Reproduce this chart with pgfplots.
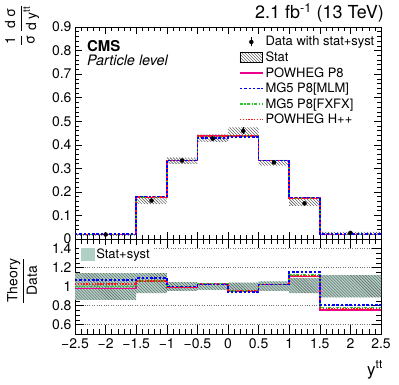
\documentclass[border=0pt]{standalone}
\usepackage{amsmath}
\usepackage{fontspec}
\setmainfont{TeX Gyre Heros}
\usepackage{pgfplots}
\pgfplotsset{compat=1.18}
\usepackage{pgfplotstable}
\usepgfplotslibrary{fillbetween}
\usetikzlibrary{patterns}

\newcommand\fs[1]{\fontsize{#1}{#1}\selectfont}
\definecolor{band}{RGB}{176,207,197}
\definecolor{fxgreen}{RGB}{40,200,40}
\definecolor{hppred}{RGB}{255,20,20}

% bin edges, last row repeats the last bin
\pgfplotstableread{
x     su     sl     pw     mlm    fx     hpp
-2.5  0.022  0.014  0.019  0.020  0.019  0.0195
-1.5  0.179  0.148  0.177  0.180  0.178  0.178
-1.0  0.345  0.319  0.333  0.333  0.334  0.333
-0.5  0.444  0.412  0.437  0.430  0.436  0.436
0.0   0.474  0.440  0.437  0.432  0.438  0.437
0.5   0.336  0.312  0.333  0.333  0.333  0.333
1.0   0.170  0.141  0.173  0.176  0.174  0.173
1.5   0.030  0.016  0.019  0.021  0.020  0.019
2.5   0.030  0.016  0.019  0.021  0.020  0.019
}\topdata

\pgfplotstableread{
x     y      e
-2.0  0.019  0.003
-1.25 0.163  0.008
-0.75 0.333  0.008
-0.25 0.426  0.010
0.25  0.459  0.015
0.75  0.325  0.008
1.25  0.151  0.008
2.0   0.026  0.003
}\datapts

\pgfplotstableread{
x     bl     bu     pw     mlm    fx     hpp
-2.5  0.86   1.14   0.98   1.07   1.00   1.03
-1.5  0.93   1.14   1.05   1.09   1.06   1.06
-1.0  0.955  1.045  0.99   1.00   1.00   0.99
-0.5  0.965  1.035  1.03   1.02   1.03   1.02
0.0   0.955  1.04   0.95   0.94   0.955  0.95
0.5   0.955  1.055  1.02   1.02   1.02   1.02
1.0   0.93   1.09   1.105  1.15   1.12   1.11
1.5   0.885  1.12   0.755  0.805  0.78   0.76
2.5   0.885  1.12   0.755  0.805  0.78   0.76
}\ratiodata

\tikzset{
  pw/.style={draw=magenta, line width=1.5pt},
  mlm/.style={draw=blue, line width=1.8pt, dash pattern=on 2.5pt off 1.8pt},
  fx/.style={draw=fxgreen, line width=1.5pt, dash pattern=on 3pt off 1.5pt on 1.2pt off 1.5pt},
  hpp/.style={draw=hppred, line width=1.8pt, dash pattern=on 1.5pt off 1.3pt},
}

\pgfplotsset{
  rootstyle/.style={
    scale only axis, width=306bp,
    xmin=-2.5, xmax=2.5,
    clip mode=individual,
    xtick distance=0.5, minor x tick num=4,
    tick align=inside, tick pos=both,
    tick style={black, line width=0.5pt},
    axis line style={line width=0.6pt},
    tick label style={font=\fs{14}},
    /pgf/number format/assume math mode=true,
  },
}

\begin{document}
\begin{tikzpicture}

\begin{axis}[rootstyle,
    name=top, at={(0,0)}, anchor=south west,
    height=212bp,
    ymin=0, ymax=0.9,
    ytick distance=0.1, minor y tick num=4,
    major tick length=7bp, minor tick length=4bp,
    xticklabels=\empty,
    yticklabel style={/pgf/number format/.cd, fixed, precision=1},
    legend style={at={(0.995,0.975)}, anchor=north east,
      draw=none, fill=none, font=\fs{13}, row sep=0.4pt,
      cells={anchor=west}},
  ]
  \addplot[name path=su, draw=none, const plot, forget plot] table[x=x, y=su] {\topdata};
  \addplot[name path=sl, draw=none, const plot, forget plot] table[x=x, y=sl] {\topdata};
  \addplot[pattern=north west lines, pattern color=black!75, draw=none, forget plot] fill between[of=su and sl];

  \addplot[pw, const plot, forget plot] table[x=x, y=pw] {\topdata};
  \addplot[fx, const plot, forget plot] table[x=x, y=fx] {\topdata};
  \addplot[hpp, const plot, forget plot] table[x=x, y=hpp] {\topdata};
  \addplot[mlm, const plot, forget plot] table[x=x, y=mlm] {\topdata};

  \addplot[only marks, mark=*, mark size=2pt, black, forget plot,
    error bars/.cd, y dir=both, y explicit, error mark=none,
    error bar style={line width=0.9pt}]
    table[x=x, y=y, y error=e] {\datapts};

  \addlegendimage{legend image code/.code={
      \draw[black, line width=0.9pt] (0.4cm,-0.16cm) -- (0.4cm,0.16cm);
      \fill[black] (0.4cm,0cm) circle (2pt);}}
  \addlegendentry{Data with stat+syst}
  \addlegendimage{legend image code/.code={
      \fill[pattern=north west lines, pattern color=black!75] (0cm,-0.17cm) rectangle (0.8cm,0.17cm);}}
  \addlegendentry{Stat}
  \addlegendimage{legend image code/.code={\draw[pw] (0cm,0cm) -- (0.8cm,0cm);}}
  \addlegendentry{POWHEG P8}
  \addlegendimage{legend image code/.code={\draw[mlm] (0cm,0cm) -- (0.8cm,0cm);}}
  \addlegendentry{MG5 P8[MLM]}
  \addlegendimage{legend image code/.code={\draw[fx] (0cm,0cm) -- (0.8cm,0cm);}}
  \addlegendentry{MG5 P8[FXFX]}
  \addlegendimage{legend image code/.code={\draw[hpp] (0cm,0cm) -- (0.8cm,0cm);}}
  \addlegendentry{POWHEG H++}

  \node[anchor=base east, inner sep=0pt, font=\fs{18}] at (rel axis cs:1,1) [xshift=3bp, yshift=8.7bp]
    {2.1 fb\textsuperscript{-1} (13 TeV)};
  \node[anchor=base west, inner sep=0pt, font=\bfseries\fs{15}] at (rel axis cs:0.039,1) [yshift=-24.7bp] {CMS};
  \node[anchor=base west, inner sep=0pt, font=\itshape\fs{14.5}] at (rel axis cs:0.039,1) [yshift=-38.7bp] {Particle level};
  \node[rotate=90, anchor=east, inner sep=0pt, font=\fs{14}] at (rel axis cs:-0.173,1.104)
    {$\dfrac{\text{1}}{\text{σ}}\,\dfrac{\text{d σ}}{\text{d y}^{\text{tt}}}$};
\end{axis}

\begin{axis}[rootstyle,
    name=ratio, at={(0,0)}, anchor=north west,
    height=95bp,
    ymin=0.5, ymax=1.5,
    ytick={0.6,0.8,1,1.2,1.4},
    yticklabels={0.6,0.8,1,1.2,1.4},
    minor y tick num=3,
    ymajorgrids, grid style={black!55, dotted, line width=0.6pt},
    major tick length=9bp, minor tick length=5bp,
    xtick={-2.5,-2,...,2.5},
    xticklabels={−2.5,−2,−1.5,−1,−0.5,0,0.5,1,1.5,2,2.5},
    xticklabel style={yshift=-1bp},
    legend style={at={(0.012,0.842)}, anchor=west,
      draw=none, fill=white, inner xsep=2pt, inner ysep=1pt,
      font=\fs{13}, cells={anchor=west}},
  ]
  \addplot[name path=bu, draw=none, const plot, forget plot] table[x=x, y=bu] {\ratiodata};
  \addplot[name path=bl, draw=none, const plot, forget plot] table[x=x, y=bl] {\ratiodata};
  \addplot[fill=band, draw=none, forget plot] fill between[of=bu and bl];
  \addplot[pattern=north west lines, pattern color=black!65, draw=none, forget plot] fill between[of=bu and bl];

  \addplot[pw, const plot, forget plot] table[x=x, y=pw] {\ratiodata};
  \addplot[fx, const plot, forget plot] table[x=x, y=fx] {\ratiodata};
  \addplot[hpp, const plot, forget plot] table[x=x, y=hpp] {\ratiodata};
  \addplot[mlm, const plot, forget plot] table[x=x, y=mlm] {\ratiodata};

  \addlegendimage{legend image code/.code={
      \fill[band] (0bp,-6bp) rectangle (13bp,6bp);}}
  \addlegendentry{Stat+syst\hspace{14bp}}

  \node[rotate=90, anchor=center, inner sep=0pt, font=\fs{14}] at (rel axis cs:-0.173,0.56)
    {$\dfrac{\text{Theory}}{\text{Data}}$};
  \node[anchor=base east, inner sep=0pt, font=\fs{17}] at (rel axis cs:1,0) [xshift=2bp, yshift=-41bp]
    {y\textsuperscript{tt}};
\end{axis}
\path (-75bp,-146bp) rectangle (324bp,239bp);
\end{tikzpicture}
\end{document}
